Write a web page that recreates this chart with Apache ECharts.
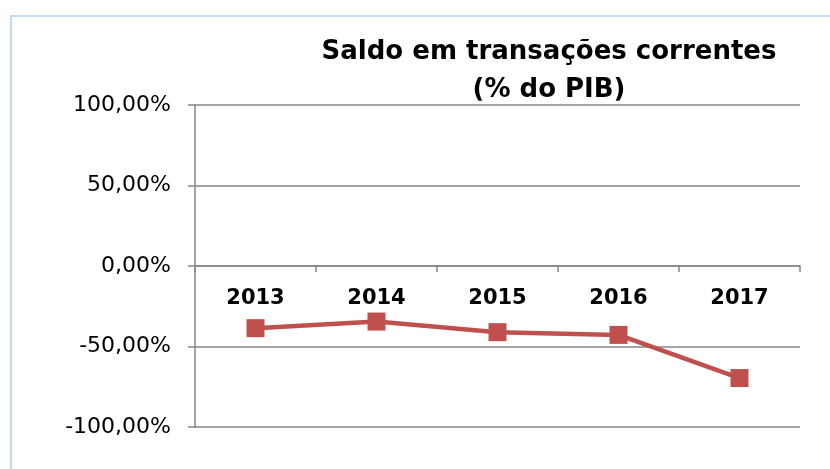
<!DOCTYPE html>
<html>
<head>
<meta charset="utf-8">
<script src="https://cdn.jsdelivr.net/npm/echarts@6/dist/echarts.min.js"></script>
<style>
    html, body { margin: 0; padding: 0; background: #fff; }
    #frame {
        position: absolute;
        left: 10px;
        top: 15px;
        width: 830px;
        height: 470px;
        border-left: 2px solid #c6d9f1;
        border-top: 2px solid #c6d9f1;
    }
    #chart { position: absolute; left: 0; top: 0; width: 830px; height: 469px; }
</style>
</head>
<body>
<div id="frame"></div>
<div id="chart"></div>
<script>
// 数据
var years = ['2013', '2014', '2015', '2016', '2017'];
var saldo = [-38.6, -34.5, -41.1, -42.8, -69.6];
var titleText = 'Saldo em transações correntes\n(% do PIB)';

var myChart = echarts.init(document.getElementById('chart'));

var option = {
    animation: false,
    title: {
        text: titleText,
        left: 544,
        top: 28,
        textAlign: 'center',
        textStyle: {
            fontFamily: 'DejaVu Sans',
            fontWeight: 'bold',
            fontSize: 26,
            lineHeight: 38,
            color: '#000'
        }
    },
    grid: {
        left: 195,
        right: 30,
        top: 105,
        bottom: 42
    },
    xAxis: {
        type: 'category',
        data: years,
        boundaryGap: true,
        position: 'bottom',
        // 轴线放在 0 的位置（网格底部往上 161px）
        offset: -161,
        axisLine: {
            onZero: false,
            lineStyle: { color: '#868686', width: 1.5 }
        },
        axisTick: {
            show: true,
            length: 6,
            lineStyle: { color: '#868686', width: 1.5 }
        },
        axisLabel: {
            margin: 22,
            fontFamily: 'DejaVu Sans',
            fontWeight: 'bold',
            fontSize: 21,
            color: '#000'
        }
    },
    yAxis: {
        type: 'value',
        min: -100,
        max: 100,
        interval: 50,
        axisLine: {
            show: true,
            lineStyle: { color: '#868686', width: 1.5 }
        },
        axisTick: {
            show: true,
            length: 7,
            lineStyle: { color: '#868686', width: 1.5 }
        },
        splitLine: {
            lineStyle: { color: '#868686', width: 1.5 }
        },
        axisLabel: {
            margin: 24,
            fontFamily: 'DejaVu Sans',
            fontSize: 22,
            color: '#000',
            formatter: function (v) {
                return v.toFixed(2).replace('.', ',') + '%';
            }
        }
    },
    series: [
        {
            type: 'line',
            data: saldo,
            symbol: 'rect',
            symbolSize: 18,
            lineStyle: { color: '#c0504d', width: 4.5 },
            itemStyle: { color: '#c0504d' }
        }
    ]
};

myChart.setOption(option);
</script>
</body>
</html>
